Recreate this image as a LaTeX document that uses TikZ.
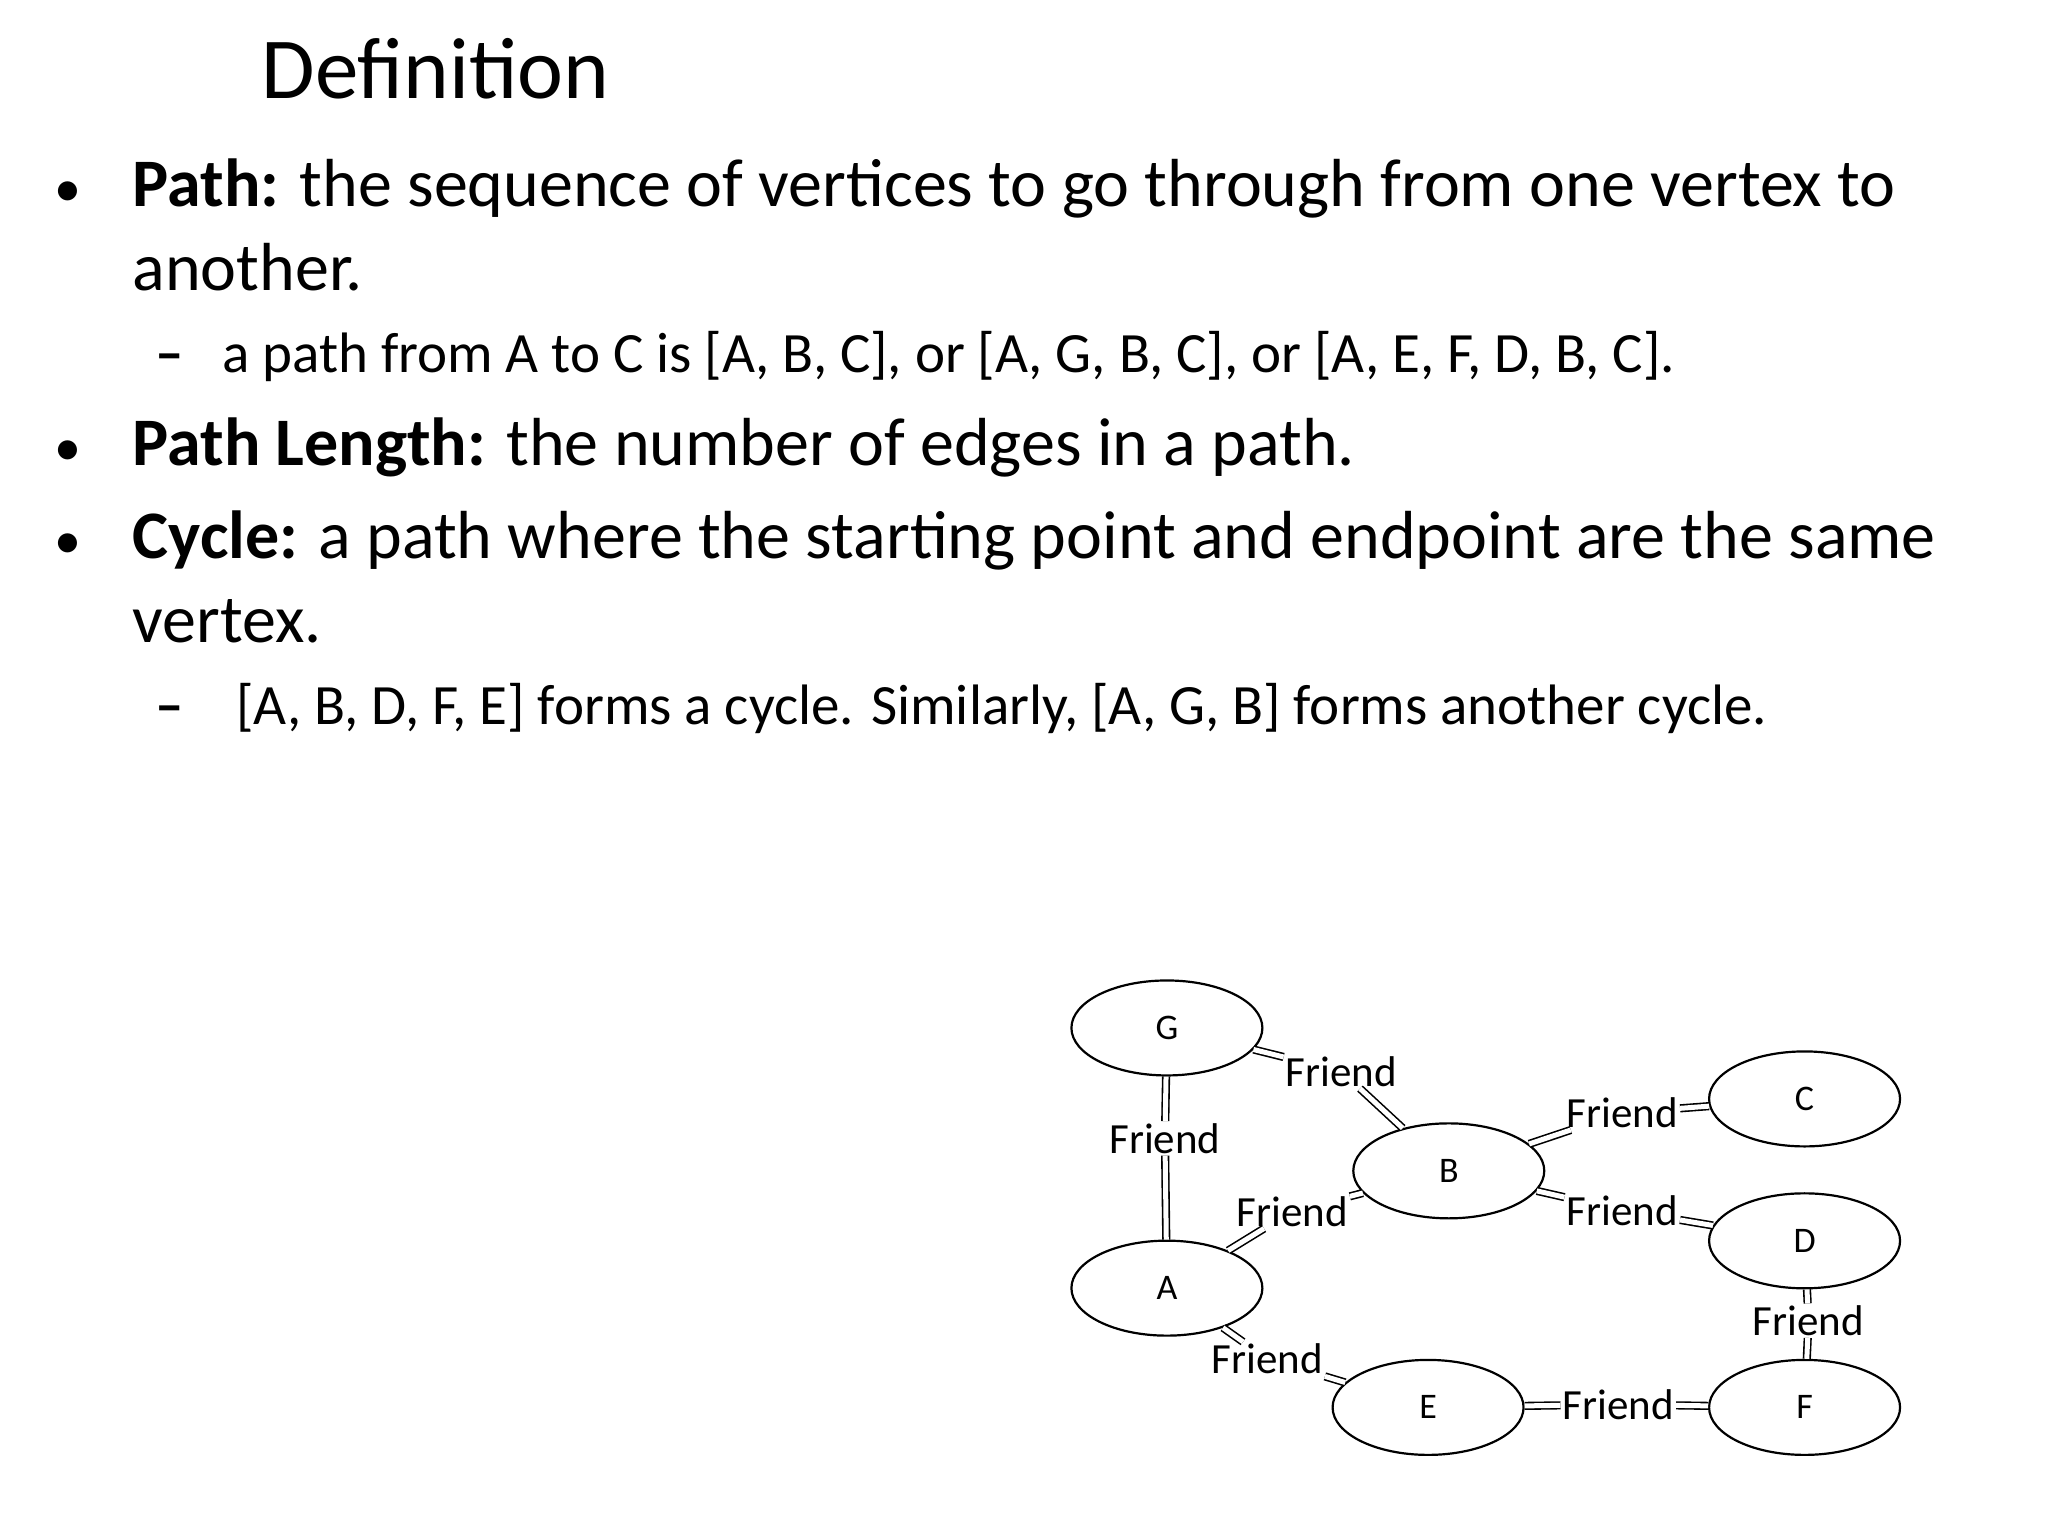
\documentclass[tikz,border=0pt]{standalone}
\usepackage{fontspec}
\setmainfont{Carlito}
\usetikzlibrary{shapes.geometric}
\begin{document}
\begin{tikzpicture}[x=0.9857pt,y=-0.9857pt,
  vtx/.style={draw,ellipse,line width=2.2pt,minimum width=191pt,minimum height=95pt,font=\fontsize{36}{40}\selectfont},
  lbl/.style={inner sep=2pt,font=\fontsize{43}{46}\selectfont},
  dbl/.style={double,line width=1.6pt,double distance=5pt},
  bul/.style={anchor=base west,font=\fontsize{68}{74}\selectfont},
  dot/.style={anchor=base west,font=\fontsize{54}{60}\selectfont},
  sub/.style={anchor=base west,font=\fontsize{57}{62}\selectfont}]
\useasboundingbox (0,0) rectangle (2078,1558);
\node[anchor=base west,font=\fontsize{87}{90}\selectfont] (title) at (262,100) {Definition};
\node[dot] (b1d) at (52,210) {•};
\node[bul] (b1) at (131,210) {\textbf{Path:} the sequence of vertices to go through from one vertex to};
\node[bul] (b1b) at (131,295) {another.};
\node[sub] (s1d) at (154,378) {\textbf{–}};
\node[sub] (s1) at (222,378) {a path from A to C is [A, B, C], or [A, G, B, C], or [A, E, F, D, B, C].};
\node[dot] (b2d) at (52,472) {•};
\node[bul] (b2) at (131,472) {\textbf{Path Length:} the number of edges in a path.};
\node[dot] (b3d) at (52,567) {•};
\node[bul] (b3) at (131,567) {\textbf{Cycle:} a path where the starting point and endpoint are the same};
\node[bul] (b3b) at (131,652) {vertex.};
\node[sub] (s2d) at (154,735) {\textbf{–}};
\node[sub] (s2) at (236,735) {[A, B, D, F, E] forms a cycle. Similarly, [A, G, B] forms another cycle.};
\node[vtx] (G) at (1184,1043) {G};
\node[vtx] (C) at (1831,1115) {C};
\node[vtx] (B) at (1470,1188) {B};
\node[vtx] (D) at (1831,1259) {D};
\node[vtx] (A) at (1184,1307) {A};
\node[vtx] (E) at (1449,1428) {E};
\node[vtx] (F) at (1831,1428) {F};
\node[lbl] (lGB) at (1361,1087) {Friend};
\node[lbl] (lGA) at (1182,1155) {Friend};
\node[lbl] (lAB) at (1311,1229) {Friend};
\node[lbl] (lBC) at (1646,1129) {Friend};
\node[lbl] (lBD) at (1646,1228) {Friend};
\node[lbl] (lAE) at (1286,1379) {Friend};
\node[lbl] (lEF) at (1642,1425) {Friend};
\node[lbl] (lDF) at (1835,1340) {Friend};
\foreach \a/\l/\b in {G/lGB/B,G/lGA/A,A/lAB/B,B/lBC/C,B/lBD/D,A/lAE/E,E/lEF/F,D/lDF/F}{
  \draw[dbl] (\a) -- (\l); \draw[dbl] (\l) -- (\b);}
\end{tikzpicture}
\end{document}
